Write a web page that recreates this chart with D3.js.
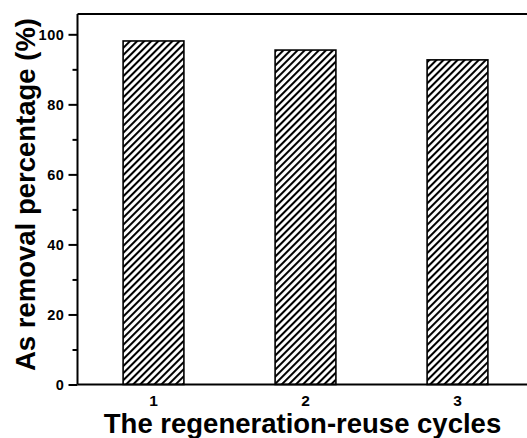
<!DOCTYPE html>
<html>
<head>
<meta charset="utf-8">
<script src="https://cdn.jsdelivr.net/npm/d3@7"></script>
<style>
  html, body { margin: 0; padding: 0; background: #fff; }
  svg { display: block; }
  text { font-family: "Liberation Sans", Arial, sans-serif; font-weight: bold; fill: #000; }
</style>
</head>
<body>
<svg id="chart" width="527" height="438"></svg>
<script>
// Regeneration-reuse cycles and As removal percentage (%)
const cycles = [1, 2, 3];
const removal = [98.1, 95.5, 92.7];
const yMajorTicks = [0, 20, 40, 60, 80, 100];
const yMinorTicks = [10, 30, 50, 70, 90];
const xTitle = "The regeneration-reuse cycles";
const yTitle = "As removal percentage (%)";

const svg = d3.select("#chart");

const x = d3.scaleLinear().domain([0.5, 3.5]).range([77.5, 533.5]);
const y = d3.scaleLinear().domain([0, 105.8]).range([384.5, 14]);
const barWidth = (x(1.4) - x(1));

// diagonal hatch fill for the bars
const defs = svg.append("defs");
defs.append("pattern")
  .attr("id", "hatch")
  .attr("patternUnits", "userSpaceOnUse")
  .attr("width", 5)
  .attr("height", 5)
  .attr("patternTransform", "rotate(45)")
  .append("line")
  .attr("x1", 1).attr("y1", 0)
  .attr("x2", 1).attr("y2", 5)
  .attr("stroke", "#000")
  .attr("stroke-width", 2.1);

// bars
svg.append("g")
  .selectAll("rect")
  .data(cycles)
  .join("rect")
  .attr("x", (d) => x(d) - barWidth / 2)
  .attr("y", (d, i) => y(removal[i]))
  .attr("width", barWidth)
  .attr("height", (d, i) => y(0) - y(removal[i]))
  .attr("fill", "url(#hatch)")
  .attr("stroke", "#000")
  .attr("stroke-width", 1.6);

// frame: top and right edges
svg.append("path")
  .attr("d", `M${x(0.5)},${y(105.8)}H${x(3.5)}V${y(0)}`)
  .attr("fill", "none")
  .attr("stroke", "#000")
  .attr("stroke-width", 2);

// left axis: major ticks (labels are drawn separately below)
const yAxis = svg.append("g")
  .attr("transform", `translate(${x(0.5)},0)`)
  .call(d3.axisLeft(y).tickValues(yMajorTicks).tickSize(9).tickFormat(""));
yAxis.select(".domain").attr("stroke-width", 2).attr("d", `M0,${y(105.8)}V${y(0)}`);
yAxis.selectAll(".tick line").attr("stroke-width", 2);

// left axis minor ticks
svg.append("g")
  .attr("transform", `translate(${x(0.5)},0)`)
  .call(d3.axisLeft(y).tickValues(yMinorTicks).tickSize(5).tickFormat(""))
  .call((g) => g.select(".domain").remove())
  .selectAll(".tick line").attr("stroke-width", 2);

// y tick labels
svg.append("g")
  .selectAll("text")
  .data(yMajorTicks)
  .join("text")
  .attr("x", x(0.5) - 13)
  .attr("y", (d) => y(d))
  .attr("dy", "0.36em")
  .attr("text-anchor", "end")
  .style("font-size", "14.5px")
  .style("letter-spacing", "0.6px")
  .text((d) => d);

// bottom axis line
const xAxis = svg.append("g")
  .attr("transform", `translate(0,${y(0)})`)
  .call(d3.axisBottom(x).tickValues(cycles).tickSize(0).tickFormat(""));
xAxis.select(".domain").attr("stroke-width", 2).attr("d", `M${x(0.5)},0H${x(3.5)}`);

// x tick labels
svg.append("g")
  .selectAll("text")
  .data(cycles)
  .join("text")
  .attr("x", (d) => x(d))
  .attr("y", y(0) + 21.5)
  .attr("text-anchor", "middle")
  .style("font-size", "15.5px")
  .text((d) => d);

// axis titles
svg.append("text")
  .attr("x", 302.5)
  .attr("y", 433)
  .attr("text-anchor", "middle")
  .style("font-size", "27.5px")
  .text(xTitle);

svg.append("text")
  .attr("transform", "translate(35,194.5) rotate(-90)")
  .attr("text-anchor", "middle")
  .style("font-size", "27.5px")
  .text(yTitle);
</script>
</body>
</html>
